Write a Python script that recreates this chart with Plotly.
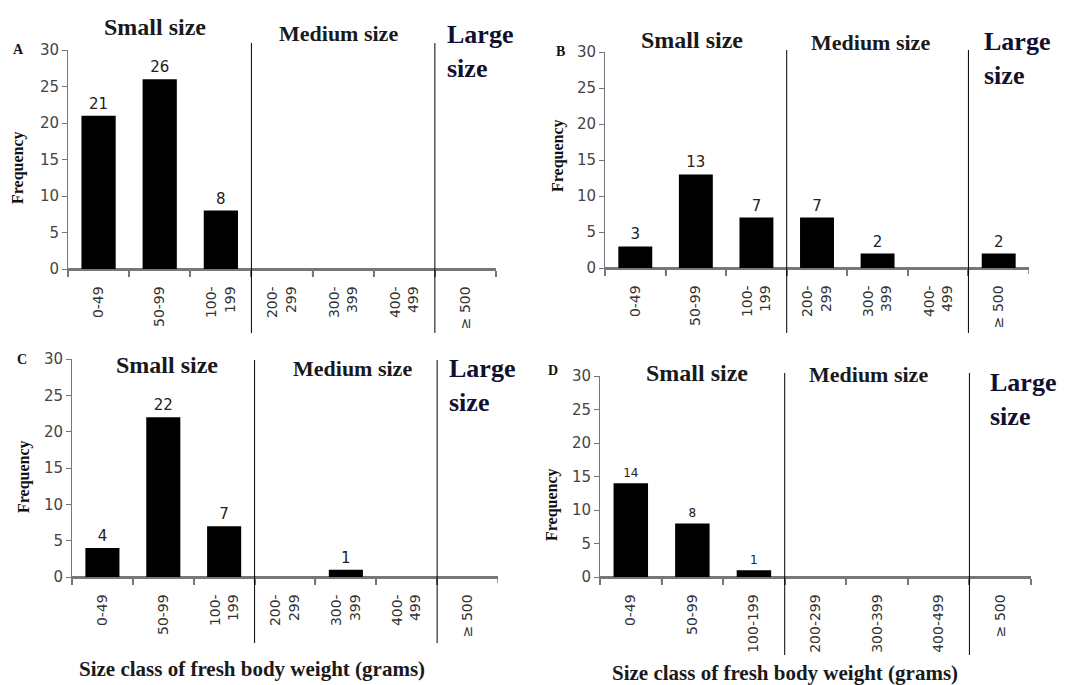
import plotly.graph_objects as go

OFF = 8  # page body margin
W, H = 1075 - OFF, 685 - OFF

categories_abc = ["0-49", "50-99", "100-<br>199", "200-<br>299", "300-<br>399", "400-<br>499", "\u2265 500"]
categories_d = ["0-49", "50-99", "100-199", "200-299", "300-399", "400-499", "\u2265 500"]

freq_a = [21, 26, 8, 0, 0, 0, 0]
freq_b = [3, 13, 7, 7, 2, 0, 2]
freq_c = [4, 22, 7, 0, 1, 0, 0]
freq_d = [14, 8, 1, 0, 0, 0, 0]

panel_letters = ["A", "B", "C", "D"]
group_titles = ["Small size", "Medium size", "Large<br>size"]
y_title = "Frequency"
x_title = "Size class of fresh body weight (grams)"
y_ticks = [0, 5, 10, 15, 20, 25, 30]


def px(p):
    return (p - OFF) / W


def py(p):
    return 1 - (p - OFF) / H


# panel pixel geometry: (x_left, x_right, y_top(30), y_bottom(0))
panels = [
    (68, 496, 50, 269),
    (605, 1029, 52, 268),
    (72, 498, 359, 577),
    (600, 1031, 376, 577),
]
datasets = [(categories_abc, freq_a), (categories_abc, freq_b), (categories_abc, freq_c), (categories_d, freq_d)]
label_sizes = [15, 15, 15, 12]
AXIS_GREY = "#777777"

fig = go.Figure()
layout = dict(
    width=W, height=H, margin=dict(l=0, r=0, t=0, b=0, pad=0, autoexpand=False),
    paper_bgcolor="white", plot_bgcolor="rgba(0,0,0,0)", showlegend=False,
)
shapes = []
annotations = []
SERIF = "Liberation Serif"
SANS = "DejaVu Sans"

for i, ((cats, vals), (xl, xr, yt, yb)) in enumerate(zip(datasets, panels)):
    n = "" if i == 0 else str(i + 1)
    xa, ya = "x" + n, "y" + n
    fig.add_trace(go.Bar(
        x=cats, y=vals, xaxis=xa, yaxis=ya,
        marker=dict(color="black", line=dict(width=0)),
        text=[str(v) if v > 0 else "" for v in vals],
        textposition="outside", cliponaxis=False,
        textfont=dict(family=SANS, size=label_sizes[i], color="#222222"),
        width=0.56,
    ))
    layout["xaxis" + n] = dict(
        domain=[px(xl), px(xr)], anchor=ya, type="category",
        categoryorder="array", categoryarray=cats, range=[-0.5, 6.5],
        showline=True, linecolor=AXIS_GREY, linewidth=1.5,
        ticks="outside", tickson="boundaries", ticklen=6, tickcolor=AXIS_GREY, tickwidth=1.5,
        tickangle=-90, showgrid=False, zeroline=False, automargin=False,
        ticklabelstandoff=10,
        tickfont=dict(family=SANS, size=14, color="#333333"),
    )
    layout["yaxis" + n] = dict(
        domain=[py(yb), py(yt)], anchor=xa, range=[0, 30],
        tickvals=y_ticks, showline=True, linecolor=AXIS_GREY, linewidth=1,
        ticks="outside", ticklen=5, tickcolor=AXIS_GREY,
        showgrid=False, zeroline=True, zerolinecolor=AXIS_GREY, zerolinewidth=1.5,
        automargin=False,
        tickfont=dict(family=SANS, size=15, color="#444444"),
    )
    # category boundary tick marks below the baseline
    for k in range(len(cats) + 1):
        shapes.append(dict(type="line", xref=xa, yref="paper",
                           x0=k - 0.5, x1=k - 0.5, y0=py(yb + 6), y1=py(yb),
                           line=dict(color=AXIS_GREY, width=1.5)))

# dividers (data x, paper y)
div_y = [(43, 333), (50, 333), (360, 643), (373, 655)]
for i, (y0, y1) in enumerate(div_y):
    n = "" if i == 0 else str(i + 1)
    for xv in (2.5, 5.5):
        shapes.append(dict(type="line", xref="x" + n, yref="paper",
                           x0=xv, x1=xv, y0=py(y1), y1=py(y0),
                           line=dict(color="black", width=1)))

# group titles
title_pos = [
    # small (cx, cy), medium (cx, cy), large (left x, center y)
    ((155, 27), (338, 33), (445, 51)),
    ((692, 40), (870, 43), (982, 59)),
    ((167, 365), (352, 368), (447, 385)),
    ((697, 373), (868, 375), (988, 399)),
]
for (s, m, l) in title_pos:
    annotations.append(dict(text="<b>" + group_titles[0] + "</b>", x=px(s[0]), y=py(s[1]),
                            xref="paper", yref="paper", showarrow=False,
                            xanchor="center", yanchor="middle",
                            font=dict(family=SERIF, size=24, color="#1a1a1a")))
    annotations.append(dict(text="<b>" + group_titles[1] + "</b>", x=px(m[0]), y=py(m[1]),
                            xref="paper", yref="paper", showarrow=False,
                            xanchor="center", yanchor="middle",
                            font=dict(family=SERIF, size=22, color="#1a1a1a")))
    annotations.append(dict(text="<b>" + group_titles[2] + "</b>", x=px(l[0]), y=py(l[1]),
                            xref="paper", yref="paper", showarrow=False,
                            xanchor="left", yanchor="middle", align="left",
                            font=dict(family=SERIF, size=26, color="#101030")))

# panel letters
letter_pos = [(18, 49), (560, 52), (22, 359), (553, 370)]
for t, (x, y) in zip(panel_letters, letter_pos):
    annotations.append(dict(text="<b>" + t + "</b>", x=px(x), y=py(y), xref="paper", yref="paper",
                            showarrow=False, xanchor="center", yanchor="middle",
                            font=dict(family=SERIF, size=14, color="#111111")))

# y titles
freq_pos = [(18, 168), (558, 155), (24, 477), (552, 505)]
for (x, y) in freq_pos:
    annotations.append(dict(text="<b>" + y_title + "</b>", x=px(x), y=py(y), xref="paper", yref="paper",
                            showarrow=False, textangle=-90, xanchor="center", yanchor="middle",
                            font=dict(family=SERIF, size=16, color="#111111")))

# x titles
for (x, y) in [(252, 669), (785, 673)]:
    annotations.append(dict(text="<b>" + x_title + "</b>", x=px(x), y=py(y), xref="paper", yref="paper",
                            showarrow=False, xanchor="center", yanchor="middle",
                            font=dict(family=SERIF, size=21, color="#1a1a1a")))

layout["shapes"] = shapes
layout["annotations"] = annotations
fig.update_layout(**layout)
fig.write_html("out.html")
